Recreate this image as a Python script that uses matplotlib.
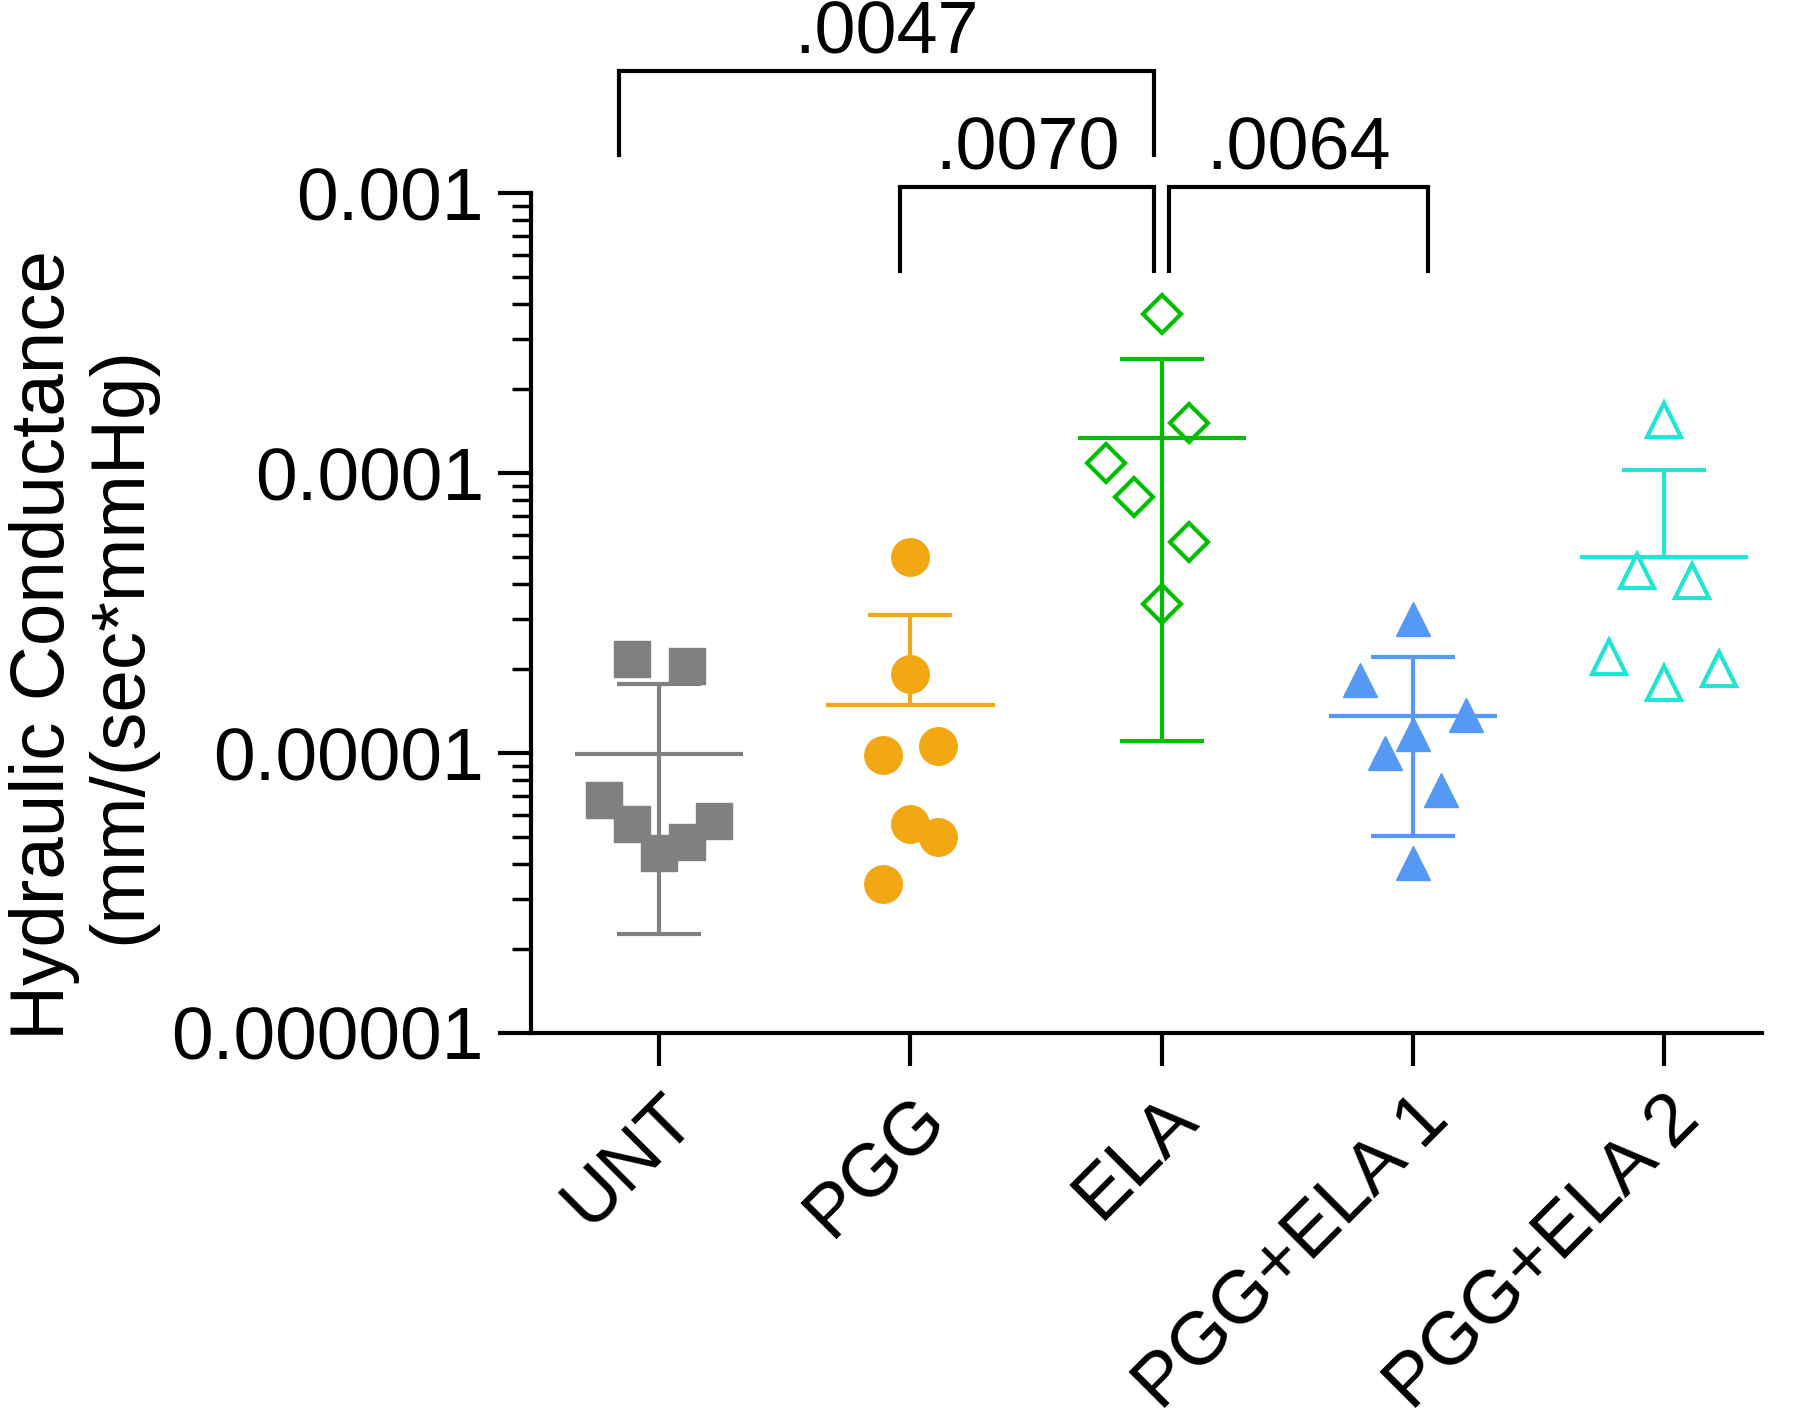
import numpy as np
import matplotlib
matplotlib.use("Agg")
import matplotlib.pyplot as plt
from matplotlib.ticker import LogLocator, FixedLocator, NullFormatter

plt.rcParams['font.family'] = ['Liberation Sans', 'DejaVu Sans']

groups = ['UNT', 'PGG', 'ELA', 'PGG+ELA 1', 'PGG+ELA 2']

# values (mm/(sec*mmHg))
unt = [2.17e-5, 2.05e-5, 6.8e-6, 5.6e-6, 4.4e-6, 4.8e-6, 5.7e-6]
pgg = [5.0e-5, 1.91e-5, 9.8e-6, 1.06e-5, 5.6e-6, 5.0e-6, 3.4e-6]
ela = [3.7e-4, 1.51e-4, 1.09e-4, 8.2e-5, 5.65e-5, 3.4e-5]
pge1 = [3.0e-5, 1.82e-5, 1.37e-5, 1.17e-5, 1.0e-5, 7.4e-6, 4.06e-6]
pge2 = [1.55e-4, 4.48e-5, 4.13e-5, 2.2e-5, 1.78e-5, 2.0e-5]

# horizontal scatter of the points within each column
unt_dx = [-0.11, 0.11, -0.22, -0.11, 0, 0.11, 0.22]
pgg_dx = [0, 0, -0.11, 0.11, 0, 0.11, -0.11]
ela_dx = [0, 0.11, -0.22, -0.11, 0.11, 0]
pge1_dx = [0, -0.21, 0.21, 0, -0.11, 0.11, 0]
pge2_dx = [0, -0.11, 0.11, -0.22, 0, 0.22]

pvals = ['.0047', '.0070', '.0064']

data = [unt, pgg, ela, pge1, pge2]
jit = [unt_dx, pgg_dx, ela_dx, pge1_dx, pge2_dx]
colors = ['#808080', '#F2A812', '#00BE00', '#5599F5', '#1EE6D2']
markers = ['s', 'o', 'D', '^', '^']
sizes = [26, 27, 19, 25, 24]
filled = [True, True, False, True, False]

fig = plt.figure(figsize=(18, 14.26), dpi=100)
ax = fig.add_axes([0.295, 0.2756, 0.684, 0.589])
ax.set_yscale('log')

for i, vals in enumerate(data):
    vals = np.array(vals)
    xs = i + np.array(jit[i])
    c = colors[i]
    if filled[i]:
        ax.plot(xs, vals, linestyle='none', marker=markers[i], ms=sizes[i],
                color=c, mec=c, zorder=3)
    else:
        ax.plot(xs, vals, linestyle='none', marker=markers[i], ms=sizes[i],
                mfc='none', mec=c, mew=3, zorder=3)
    m = vals.mean()
    sd = vals.std(ddof=1)
    hi = m + sd
    lo = m - sd
    ax.hlines(m, i - 0.335, i + 0.335, color=c, lw=3, zorder=4)
    ax.hlines(hi, i - 0.167, i + 0.167, color=c, lw=3, zorder=4)
    if lo > 0:
        ax.vlines(i, lo, hi, color=c, lw=3, zorder=4)
        ax.hlines(lo, i - 0.167, i + 0.167, color=c, lw=3, zorder=4)
    else:
        ax.vlines(i, m, hi, color=c, lw=3, zorder=4)

# significance brackets
br_x = [(-0.16, 1.97), (0.96, 1.97), (2.03, 3.06)]
br_y = [(1.37e-3, 2.73e-3), (5.28e-4, 1.05e-3), (5.28e-4, 1.05e-3)]
for (x1, x2), (yb, yt), p in zip(br_x, br_y, pvals):
    ax.plot([x1, x1, x2, x2], [yb, yt, yt, yb], color='black', lw=3,
            clip_on=False, solid_joinstyle='miter')
    ax.annotate(p, xy=((x1 + x2) / 2, yt), xytext=(0, 2),
                textcoords='offset points', ha='center', va='bottom',
                fontsize=53, annotation_clip=False)

ax.set_ylim(1e-6, 1e-3)
ax.set_xlim(-0.51, 4.39)
ax.yaxis.set_major_locator(FixedLocator([1e-6, 1e-5, 1e-4, 1e-3]))
ax.set_yticklabels(['0.000001', '0.00001', '0.0001', '0.001'])
ax.yaxis.set_minor_locator(LogLocator(base=10, subs=np.arange(2, 10)))
ax.yaxis.set_minor_formatter(NullFormatter())

ax.set_xticks(range(len(groups)))
ax.set_xticklabels(groups, rotation=45, ha='right', rotation_mode='anchor')

for s in ['top', 'right']:
    ax.spines[s].set_visible(False)
for s in ['left', 'bottom']:
    ax.spines[s].set_linewidth(3)

ax.tick_params(axis='both', which='major', direction='out', length=24,
               width=3, labelsize=54, pad=10)
ax.tick_params(axis='y', which='minor', direction='out', length=14, width=2.5)
ax.tick_params(axis='x', pad=12)

fig.text(0.046, 0.548, 'Hydraulic Conductance\n(mm/(sec*mmHg)', rotation=90,
         ha='center', va='center', multialignment='center', fontsize=55,
         linespacing=1.1)

fig.savefig('out.png', dpi=100, facecolor='white')
